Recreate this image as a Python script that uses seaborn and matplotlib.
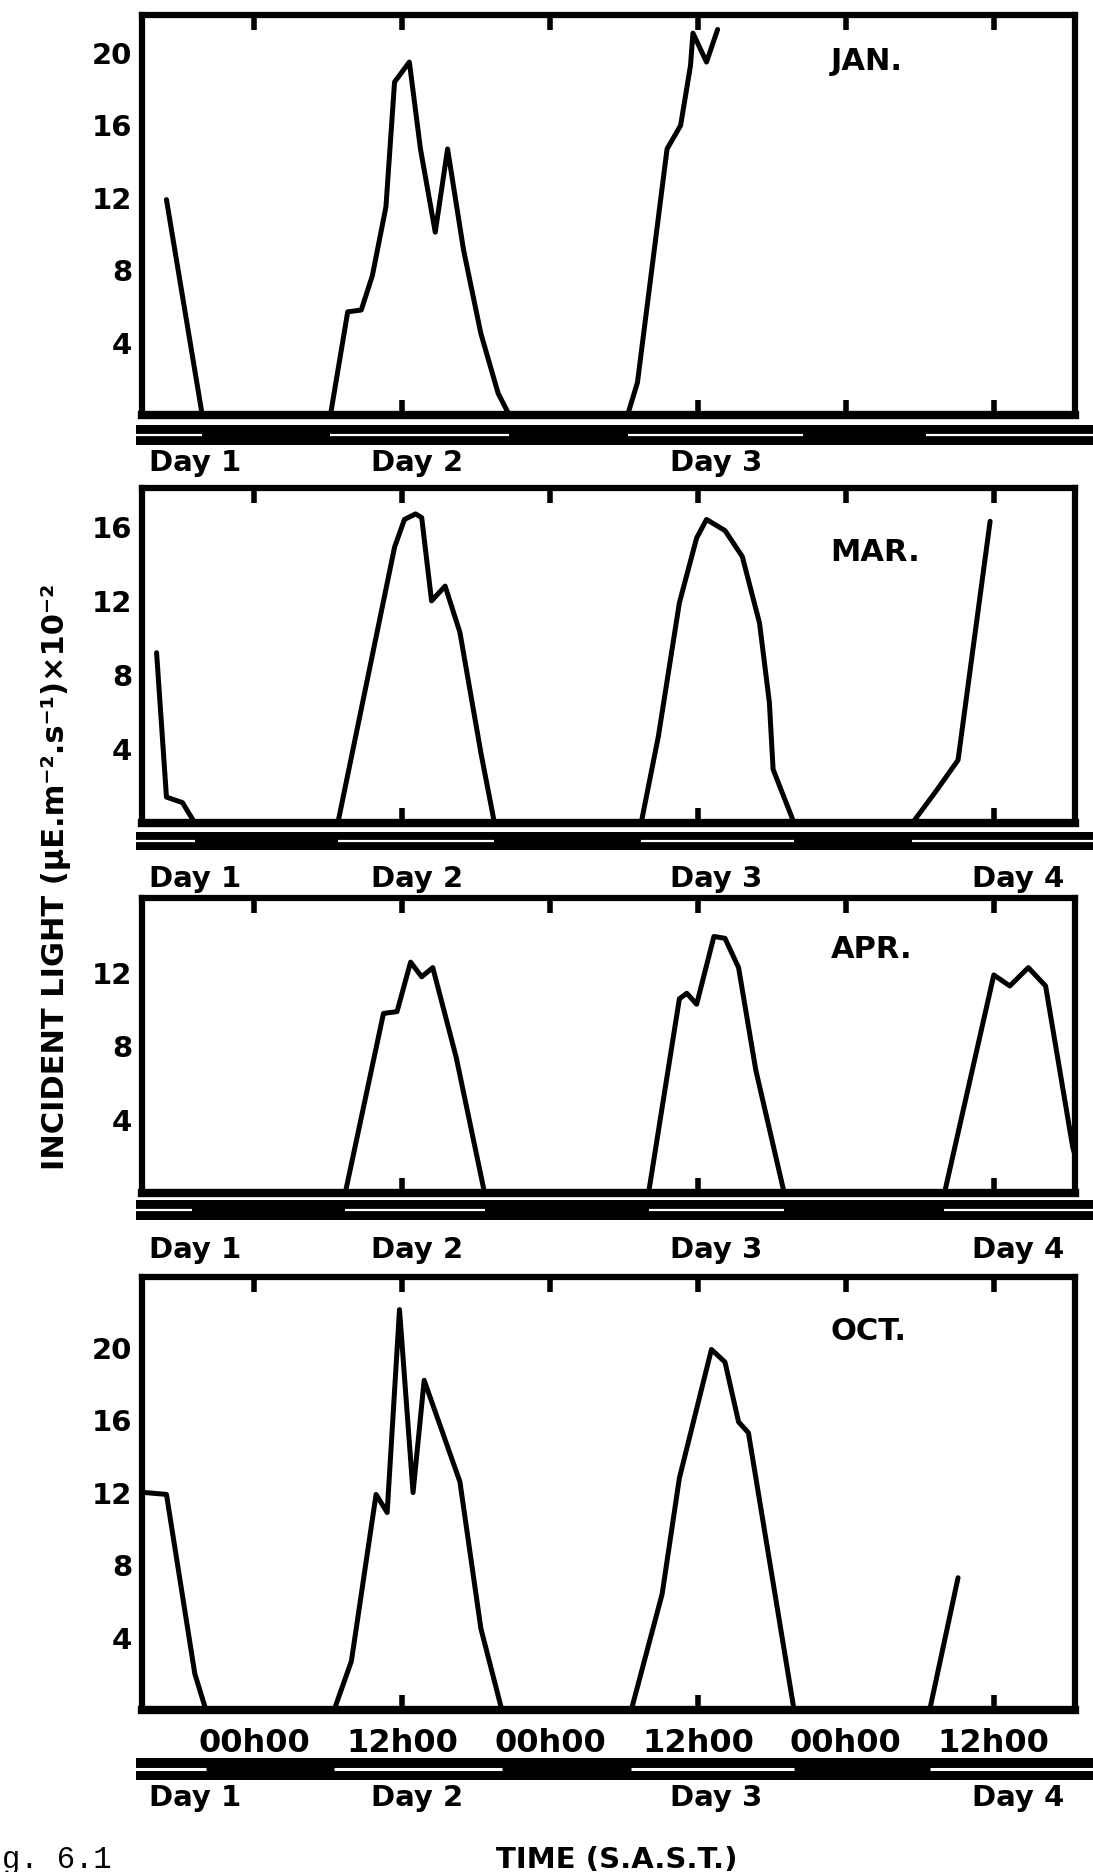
import pandas as pd
import seaborn as sns
import matplotlib.pyplot as plt
import matplotlib.transforms as mtransforms

# time is in hours counted from 00h00 on Day 1
jan_t = [16.9, 19.8, 30.2, 31.6, 32.7, 33.6, 34.7, 35.4, 36.6, 37.5, 38.7, 39.7, 41.0,
         42.4, 43.8, 44.7, 54.3, 55.1, 57.5, 58.6, 59.4, 59.6, 60.7, 61.6]
jan_v = [11.9, 0, 0, 5.7, 5.8, 7.7, 11.5, 18.4, 19.5, 14.7, 10.1, 14.7, 9.1,
         4.5, 1.2, 0, 0, 1.8, 14.7, 16.0, 19.3, 21.1, 19.5, 21.3]

mar_t = [16.1, 16.9, 18.2, 19.2, 30.8, 35.4, 36.2, 37.1, 37.6, 38.4, 39.5, 40.7, 42.4,
         43.5, 55.4, 56.8, 58.5, 59.9, 60.7, 62.2, 63.6, 65.0, 65.8, 66.1, 67.8,
         77.4, 79.4, 81.1, 83.7]
mar_v = [9.2, 1.4, 1.1, 0, 0, 14.9, 16.4, 16.7, 16.5, 12.0, 12.8, 10.3, 3.8,
         0, 0, 4.7, 11.9, 15.4, 16.4, 15.8, 14.4, 10.8, 6.5, 2.9, 0,
         0, 1.8, 3.4, 16.3]

apr_t = [15.0, 31.4, 34.5, 35.6, 36.7, 37.6, 38.5, 40.4, 42.7, 56.0, 58.5, 59.1, 59.9,
         61.3, 62.2, 63.3, 64.7, 67.0, 80.0, 84.0, 85.3, 86.8, 88.2, 90.4, 91.5]
apr_v = [0, 0, 9.8, 9.9, 12.6, 11.8, 12.3, 7.4, 0, 0, 10.6, 10.9, 10.3,
         14.0, 13.9, 12.3, 6.7, 0, 0, 11.9, 11.3, 12.3, 11.3, 2.5, 0]

oct_t = [15.2, 16.9, 19.2, 20.1, 30.5, 31.9, 33.9, 34.8, 35.8, 36.9, 37.8, 40.7, 42.4,
         44.1, 54.6, 57.1, 58.5, 61.1, 62.2, 63.3, 64.1, 65.6, 67.8, 78.8, 81.1]
oct_v = [12.0, 11.9, 2.0, 0, 0, 2.7, 11.9, 10.9, 22.1, 12.0, 18.2, 12.6, 4.5,
         0, 0, 6.4, 12.8, 19.9, 19.2, 15.9, 15.3, 9.1, 0, 0, 7.3]

months = ['JAN.', 'MAR.', 'APR.', 'OCT.']
series = [(jan_t, jan_v), (mar_t, mar_v), (apr_t, apr_v), (oct_t, oct_v)]
y_max = [22.1, 18.1, 16.1, 23.9]
y_ticks = [[4, 8, 12, 16, 20], [4, 8, 12, 16], [4, 8, 12], [4, 8, 12, 16, 20]]
time_ticks = [24, 36, 48, 60, 72, 84]
time_labels = ['00h00', '12h00', '00h00', '12h00', '00h00', '12h00']
bottom_ticks = [[36, 60, 72, 84], [36, 60, 84], [36, 60, 84], [36, 60, 84]]

# daylight periods (white gaps in the day/night bar)
daylight = [
    [(14.0, 19.8), (30.2, 44.7), (54.3, 68.5), (78.5, 93.0)],
    [(14.0, 19.2), (30.8, 43.5), (55.4, 67.8), (77.4, 93.0)],
    [(14.0, 19.0), (31.4, 42.7), (56.0, 67.0), (80.0, 93.0)],
    [(14.0, 20.1), (30.5, 44.1), (54.6, 67.8), (78.8, 93.0)],
]
day_names = ['Day 1', 'Day 2', 'Day 3', 'Day 4']
n_days = [3, 4, 4, 4]

# ---- layout (pixels of the 1093 x 1872 image) ----
W, H = 1093, 1872
px_left, px_right = 142, 1075
px24, px_per_h = 254, 12.33
panel_tb = [(15, 415), (488, 823), (898, 1193), (1277, 1710)]
band_tb = [(425, 445), (832, 850), (1200, 1220), (1758, 1780)]
daylab_y = [463, 879, 1250, 1798]
daylab_x = [19.2, 37.2, 61.5, 86]
band_left, band_right = 136, 1093
month_y = [0.885, 0.806, 0.827, 0.873]


def rect(l, r, top, bot):
    return [l / W, 1 - bot / H, (r - l) / W, (bot - top) / H]


def px2h(p):
    return 24 + (p - px24) / px_per_h


sns.set_style('white')
plt.rcParams['font.family'] = ['DejaVu Sans']
plt.rcParams['font.weight'] = 'bold'
plt.rcParams['text.color'] = 'black'
plt.rcParams['xtick.color'] = 'black'
plt.rcParams['ytick.color'] = 'black'
plt.rcParams['axes.labelcolor'] = 'black'

fig = plt.figure(figsize=(W / 100, H / 100), dpi=100)

for i, (t, v) in enumerate(series):
    ax = fig.add_axes(rect(px_left, px_right, *panel_tb[i]))
    df = pd.DataFrame({'time': t, 'light': v})
    sns.lineplot(data=df, x='time', y='light', ax=ax, color='black',
                 linewidth=3.6, estimator=None, sort=False)
    ax.set_xlim(px2h(px_left), px2h(px_right))
    ax.set_ylim(0, y_max[i])
    ax.set_yticks(y_ticks[i])
    ax.set_xticks(time_ticks)
    ax.set_xlabel('')
    ax.set_ylabel('')
    ax.tick_params(axis='y', direction='in', width=4, length=9, labelsize=21, pad=7)
    ax.tick_params(axis='x', direction='in', width=4, length=11, top=True, bottom=True)
    if i == 3:
        ax.set_xticklabels(time_labels, fontsize=23, fontweight='bold')
        ax.tick_params(axis='x', pad=13)
    else:
        ax.set_xticklabels([])
    for k, tk in enumerate(ax.xaxis.get_major_ticks()):
        tk.tick1line.set_visible(time_ticks[k] in bottom_ticks[i])
    for s in ax.spines.values():
        s.set_visible(True)
        s.set_linewidth(4.5)
        s.set_color('black')
    ax.spines['bottom'].set_linewidth(6)
    ax.text(0.738, month_y[i], months[i], transform=ax.transAxes,
            fontsize=22, fontweight='bold', va='center', ha='left')

    # day / night bar under the panel
    bx = fig.add_axes(rect(band_left, band_right, *band_tb[i]))
    bx.set_facecolor('black')
    bx.set_xlim(px2h(band_left), px2h(band_right))
    bx.set_ylim(0, 1)
    starts = [a for a, b in daylight[i]]
    ends = [b for a, b in daylight[i]]
    bx.hlines([0.5] * len(starts), starts, ends, color='white',
              linewidth=2.2 if i == 3 else 1.6)
    bx.set_xticks([])
    bx.set_yticks([])
    for s in bx.spines.values():
        s.set_visible(False)
    tr = mtransforms.blended_transform_factory(bx.transData, fig.transFigure)
    for d in range(n_days[i]):
        bx.text(daylab_x[d], 1 - daylab_y[i] / H, day_names[d], transform=tr,
                fontsize=21, fontweight='bold', ha='center', va='center')

fig.text(56 / W, 1 - 877 / H, 'INCIDENT LIGHT (μE.m⁻².s⁻¹)×10⁻²', rotation=90,
         fontsize=22, fontweight='bold', ha='center', va='center')
fig.text(617 / W, 1 - 1860 / H, 'TIME (S.A.S.T.)', fontsize=21,
         fontweight='bold', ha='center', va='center')
fig.text(2 / W, 1 - 1860 / H, 'g. 6.1', family=['Liberation Mono', 'DejaVu Sans Mono'],
         fontsize=22, fontweight='normal', ha='left', va='center')

fig.savefig('out.png', dpi=100)
